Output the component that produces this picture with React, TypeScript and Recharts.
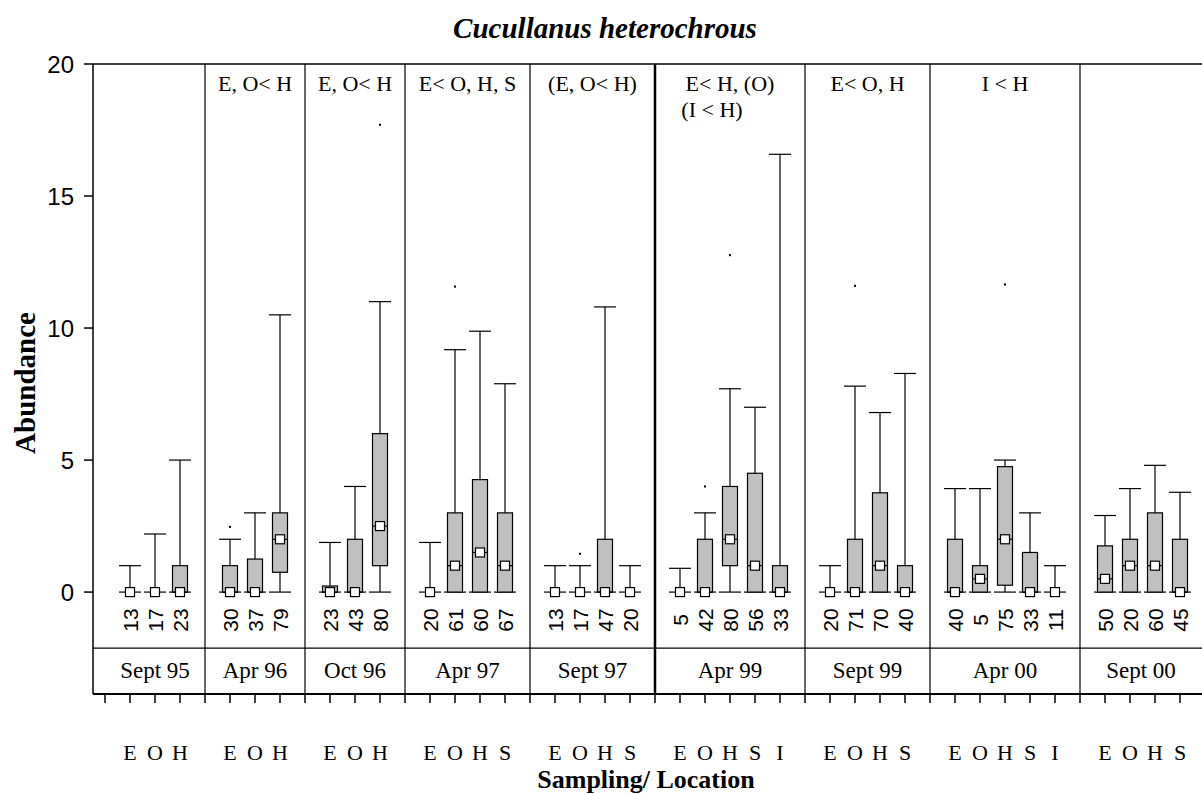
import React from 'react';
import { ComposedChart, Bar, Scatter, XAxis, YAxis, ReferenceLine, ReferenceArea } from 'recharts';

const SERIF = "'Liberation Serif', 'Times New Roman', serif";
const SANS = "'Liberation Sans', Arial, sans-serif";

// sampling occasions, the sites sampled on each and the significance notes
const sessions = ['Sept 95', 'Apr 96', 'Oct 96', 'Apr 97', 'Sept 97', 'Apr 99', 'Sept 99', 'Apr 00', 'Sept 00'];
const sessionSites = [
  ['E', 'O', 'H'],
  ['E', 'O', 'H'],
  ['E', 'O', 'H'],
  ['E', 'O', 'H', 'S'],
  ['E', 'O', 'H', 'S'],
  ['E', 'O', 'H', 'S', 'I'],
  ['E', 'O', 'H', 'S'],
  ['E', 'O', 'H', 'S', 'I'],
  ['E', 'O', 'H', 'S'],
];
const sessionNotes = [[], ['E, O< H'], ['E, O< H'], ['E< O, H, S'], ['(E, O< H)'], ['E< H, (O)', '(I < H)'], ['E< O, H'], ['I < H'], []];
// the Sept 97 / Apr 99 split is drawn heavier
const heavyAfter = 4;

// one entry per box, in session order
const sampleSizes = [13, 17, 23, 30, 37, 79, 23, 43, 80, 20, 61, 60, 67, 13, 17, 47, 20, 5, 42, 80, 56, 33, 20, 71, 70, 40, 40, 5, 75, 33, 11, 50, 20, 60, 45];
const lowerQuartile = [0, 0, 0, 0, 0, 0.75, 0, 0, 1, 0, 0, 0, 0, 0, 0, 0, 0, 0, 0, 1, 0, 0, 0, 0, 0, 0, 0, 0, 0.26, 0, 0, 0, 0, 0, 0];
const medians = [0, 0, 0, 0, 0, 2, 0, 0, 2.5, 0, 1, 1.5, 1, 0, 0, 0, 0, 0, 0, 2, 1, 0, 0, 0, 1, 0, 0, 0.5, 2, 0, 0, 0.5, 1, 1, 0];
const upperQuartile = [0, 0, 1, 1, 1.25, 3, 0.23, 2, 6, 0, 3, 4.26, 3, 0, 0, 2, 0, 0, 2, 4, 4.5, 1, 0, 2, 3.76, 1, 2, 1, 4.75, 1.5, 0, 1.75, 2, 3, 2];
const whiskerMin = [0, 0, 0, 0, 0, 0, 0, 0, 0, 0, 0, 0, 0, 0, 0, 0, 0, 0, 0, 0, 0, 0, 0, 0, 0, 0, 0, 0, 0, 0, 0, 0, 0, 0, 0];
const whiskerMax = [1, 2.2, 5, 2, 3, 10.5, 1.88, 4, 11, 1.88, 9.18, 9.88, 7.89, 1, 1, 10.8, 1, 0.9, 3, 7.7, 7, 16.58, 1, 7.8, 6.8, 8.28, 3.92, 3.92, 5, 3, 1, 2.9, 3.92, 4.8, 3.78];
// [box index, value]
const outliers: [number, number][] = [[3, 2.47], [8, 17.7], [10, 11.57], [14, 1.45], [18, 4], [19, 12.76], [23, 11.6], [28, 11.65]];

const yTicks = [0, 5, 10, 15, 20];
const Y_MIN = -3.86;
const Y_MAX = 20;
const COUNT_ROW_FLOOR = -2.12;
const X_MIN = -0.48;
const X_MAX = 43.88;

type BoxRow = {
  slot: number;
  site: string;
  n: number;
  whiskerLow: number;
  q1: number;
  median: number;
  q3: number;
  whiskerHigh: number;
};

// lay the sessions out on one slot axis: a gap slot, then one slot per site
const boxes: BoxRow[] = [];
const bounds: { start: number; end: number }[] = [];
let slot = 0;
let boxIndex = 0;
sessionSites.forEach((sites) => {
  const start = slot;
  sites.forEach((site, i) => {
    boxes.push({
      slot: start + i + 1,
      site,
      n: sampleSizes[boxIndex],
      whiskerLow: whiskerMin[boxIndex],
      q1: lowerQuartile[boxIndex],
      median: medians[boxIndex],
      q3: upperQuartile[boxIndex],
      whiskerHigh: whiskerMax[boxIndex],
    });
    boxIndex++;
  });
  slot = start + sites.length + 1;
  bounds.push({ start, end: slot });
});
const outlierRows = outliers.map(([i, value]) => ({ slot: boxes[i].slot, value }));
const allSlots = Array.from({ length: slot }, (_, i) => i);
const bySlot = new Map(boxes.map((b) => [b.slot, b]));

function BoxShape(props: any) {
  const { x, y, width, height, payload } = props;
  const { whiskerLow, q1, median, q3, whiskerHigh } = payload as BoxRow;
  const toY = (v: number) => y + ((whiskerHigh - v) / (whiskerHigh - whiskerLow)) * height;
  const cx = x + width / 2;
  const cap = 11;
  const yLow = toY(whiskerLow);
  const yHigh = toY(whiskerHigh);
  return (
    <g stroke="#000" strokeWidth={1.2} fill="none">
      <line x1={cx} x2={cx} y1={yHigh} y2={yLow} />
      <line x1={cx - cap} x2={cx + cap} y1={yHigh} y2={yHigh} />
      <line x1={cx - cap} x2={cx + cap} y1={yLow} y2={yLow} />
      {q3 > q1 && <rect x={x} y={toY(q3)} width={width} height={toY(q1) - toY(q3)} fill="#c0c0c0" />}
      {q3 > q1 && <line x1={x} x2={x + width} y1={toY(median)} y2={toY(median)} />}
    </g>
  );
}

function MedianMark(props: any) {
  const { cx, cy } = props;
  return <rect x={cx - 4.5} y={cy - 4.5} width={9} height={9} fill="#fff" stroke="#000" strokeWidth={1.2} />;
}

function OutlierDot(props: any) {
  const { cx, cy } = props;
  return <rect x={cx - 1} y={cy - 1} width={2} height={2} fill="#000" />;
}

// site letter under the axis, sample size rotated above it
function SiteTick(props: any) {
  const { x, y, payload } = props;
  const box = bySlot.get(payload.value);
  if (!box) return null;
  const countY = y - 85;
  return (
    <g>
      <text
        x={x}
        y={countY}
        transform={`rotate(-90, ${x}, ${countY})`}
        textAnchor="middle"
        dominantBaseline="central"
        fontFamily={SANS}
        fontSize={21}
        fill="#000"
      >
        {box.n}
      </text>
      <text x={x} y={y + 55} textAnchor="middle" fontFamily={SERIF} fontSize={22} fill="#000">
        {box.site}
      </text>
    </g>
  );
}

function sessionLabel(i: number) {
  return (props: any) => {
    const vb = props.viewBox;
    if (!vb) return null;
    const cx = vb.x + vb.width / 2;
    const bottom = vb.y + vb.height;
    return (
      <g fontFamily={SERIF} fill="#000">
        <text x={cx} y={bottom - 16} textAnchor="middle" fontSize={23}>
          {sessions[i]}
        </text>
        {sessionNotes[i].map((note, k) => (
          <text key={k} x={cx - k * 18} y={vb.y + 27 + k * 26} textAnchor="middle" fontSize={22}>
            {note}
          </text>
        ))}
      </g>
    );
  };
}

export default function App() {
  return (
    <div style={{ position: 'relative', width: 1202, height: 794, background: '#fff', overflow: 'hidden' }}>
      <style>{'body{margin:0}'}</style>
      <div
        style={{
          position: 'absolute',
          left: 605,
          top: 12,
          transform: 'translateX(-50%)',
          fontFamily: SERIF,
          fontWeight: 'bold',
          fontStyle: 'italic',
          fontSize: 29,
          whiteSpace: 'nowrap',
        }}
      >
        Cucullanus heterochrous
      </div>
      <div
        style={{
          position: 'absolute',
          left: 25,
          top: 383,
          transform: 'translate(-50%, -50%) rotate(-90deg)',
          fontFamily: SERIF,
          fontWeight: 'bold',
          fontSize: 29,
          whiteSpace: 'nowrap',
        }}
      >
        Abundance
      </div>
      <div
        style={{
          position: 'absolute',
          left: 646,
          top: 780,
          transform: 'translate(-50%, -50%)',
          fontFamily: SERIF,
          fontWeight: 'bold',
          fontSize: 26,
          whiteSpace: 'nowrap',
        }}
      >
        Sampling/ Location
      </div>
      <ComposedChart width={1202} height={794} data={boxes} margin={{ top: 64, right: 0, bottom: 0, left: 33 }}>
        <XAxis
          dataKey="slot"
          type="number"
          domain={[X_MIN, X_MAX]}
          allowDataOverflow
          ticks={allSlots}
          interval={0}
          height={100}
          tickSize={9}
          tick={<SiteTick />}
          axisLine={{ stroke: '#000', strokeWidth: 2 }}
          tickLine={{ stroke: '#000', strokeWidth: 1.5 }}
        />
        <YAxis
          type="number"
          domain={[Y_MIN, Y_MAX]}
          allowDataOverflow
          ticks={yTicks}
          width={60}
          tickSize={9}
          tickMargin={10}
          tick={{ fill: '#000', fontFamily: SANS, fontSize: 24 }}
          axisLine={{ stroke: '#000', strokeWidth: 1.5 }}
          tickLine={{ stroke: '#000', strokeWidth: 1.5 }}
        />
        {bounds.map((b, i) => (
          <ReferenceArea
            key={sessions[i]}
            x1={Math.max(b.start, X_MIN)}
            x2={Math.min(b.end, X_MAX)}
            y1={Y_MIN}
            y2={Y_MAX}
            fill="none"
            fillOpacity={0}
            stroke="none"
            label={sessionLabel(i)}
          />
        ))}
        {bounds.slice(0, -1).map((b, i) => (
          <ReferenceLine key={`sep-${i}`} x={b.end} stroke="#000" strokeWidth={i === heavyAfter ? 2.5 : 1.2} />
        ))}
        <ReferenceLine y={COUNT_ROW_FLOOR} stroke="#000" strokeWidth={1.2} />
        <ReferenceLine y={Y_MAX} stroke="#000" strokeWidth={1.5} />
        <Bar
          dataKey={(d: BoxRow) => [d.whiskerLow, d.whiskerHigh]}
          barSize={15}
          shape={<BoxShape />}
          isAnimationActive={false}
        />
        <Scatter dataKey="median" shape={<MedianMark />} isAnimationActive={false} />
        <Scatter data={outlierRows} dataKey="value" shape={<OutlierDot />} isAnimationActive={false} />
      </ComposedChart>
    </div>
  );
}
